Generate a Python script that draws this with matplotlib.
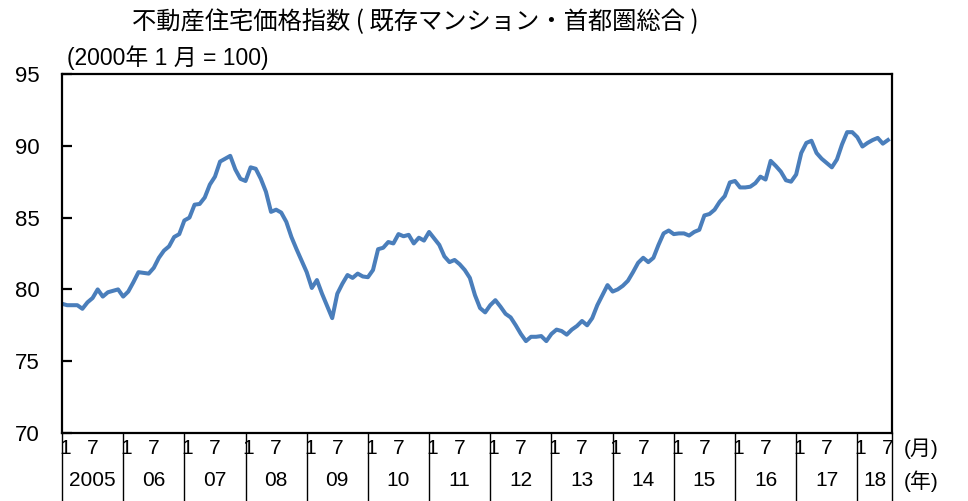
import matplotlib
matplotlib.use("Agg")
import matplotlib.pyplot as plt
import matplotlib.transforms as mtransforms
import numpy as np

# Data: monthly index, Jan 2005 - Jul 2018
values_2005 = [79.0, 78.9, 78.9, 78.9, 78.65, 79.1, 79.4, 80.0, 79.5, 79.8, 79.9, 80.0]
values_2006 = [79.5, 79.85, 80.5, 81.2, 81.15, 81.1, 81.5, 82.2, 82.7, 83.0, 83.65, 83.85]
values_2007 = [84.8, 85.0, 85.9, 85.95, 86.4, 87.3, 87.85, 88.9, 89.1, 89.3, 88.35, 87.7]
values_2008 = [87.55, 88.5, 88.4, 87.7, 86.8, 85.4, 85.55, 85.35, 84.7, 83.65, 82.8, 82.0]
values_2009 = [81.2, 80.1, 80.65, 79.7, 78.85, 78.0, 79.7, 80.4, 81.0, 80.8, 81.1, 80.9]
values_2010 = [80.85, 81.35, 82.8, 82.9, 83.3, 83.2, 83.85, 83.7, 83.8, 83.2, 83.6, 83.4]
values_2011 = [84.0, 83.55, 83.1, 82.3, 81.9, 82.05, 81.75, 81.35, 80.8, 79.6, 78.7, 78.4]
values_2012 = [78.9, 79.25, 78.8, 78.3, 78.05, 77.5, 76.9, 76.4, 76.7, 76.7, 76.75, 76.4]
values_2013 = [76.9, 77.2, 77.1, 76.85, 77.2, 77.45, 77.8, 77.5, 78.0, 78.9, 79.6, 80.3]
values_2014 = [79.85, 80.0, 80.25, 80.6, 81.2, 81.85, 82.2, 81.9, 82.2, 83.1, 83.9, 84.1]
values_2015 = [83.85, 83.9, 83.9, 83.75, 84.0, 84.15, 85.15, 85.25, 85.55, 86.1, 86.5, 87.45]
values_2016 = [87.55, 87.1, 87.1, 87.15, 87.4, 87.85, 87.65, 88.95, 88.6, 88.2, 87.6, 87.5]
values_2017 = [88.0, 89.5, 90.2, 90.35, 89.5, 89.1, 88.8, 88.5, 89.05, 90.1, 90.95, 90.95]
values_2018 = [90.6, 89.95, 90.2, 90.4, 90.55, 90.15, 90.4]

year_labels = ["2005", "06", "07", "08", "09", "10", "11", "12", "13", "14", "15", "16", "17", "18"]
y_ticks = [70, 75, 80, 85, 90, 95]

title = "不動産住宅価格指数 ( 既存マンション・首都圏総合 )"
subtitle = "(2000年 1 月 = 100)"

values = (values_2005 + values_2006 + values_2007 + values_2008 + values_2009 + values_2010
          + values_2011 + values_2012 + values_2013 + values_2014 + values_2015 + values_2016
          + values_2017 + values_2018)
x = np.arange(len(values))

plt.rcParams['font.family'] = ['Liberation Sans', 'Noto Sans CJK JP']

fig = plt.figure(figsize=(9.68, 5.01), dpi=100)
ax = fig.add_axes([62/968, 1-433/501, (892-62)/968, (433-74)/501])

ax.plot(x, values, color="#4a7ebb", linewidth=2.9, solid_joinstyle='round')

x_end = len(values) - 1 + 0.8
ax.set_xlim(0, x_end)
ax.set_ylim(70, 95)

for s in ax.spines.values():
    s.set_linewidth(1.6)
    s.set_color("black")

ax.set_yticks(y_ticks)
ax.set_yticklabels([str(v) for v in y_ticks], fontsize=16)
ax.tick_params(axis='y', direction='in', length=7, width=1.6, pad=16)

# x separators as long ticks
n_years = len(year_labels)
sep = [12*k for k in range(n_years)] + [x_end]
ax.set_xticks(sep)
ax.set_xticklabels([])
ax.tick_params(axis='x', direction='out', length=49, width=1.0, color='black')

trans = mtransforms.blended_transform_factory(ax.transData, ax.transAxes)
month_y = (433-449)/359
year_y = (433-481)/359
for k, lab in enumerate(year_labels):
    ax.text(12*k + 0.6, month_y, "1", transform=trans, ha='center', va='center', fontsize=15)
    ax.text(12*k + 6, month_y, "7", transform=trans, ha='center', va='center', fontsize=15)
    start = 12*k
    end = min(12*(k+1), x_end)
    ax.text((start+end)/2, year_y, lab, transform=trans, ha='center', va='center', fontsize=15)

fig.text(921/968, 1-449/501, "(月)", ha='center', va='center', fontsize=15)
fig.text(921/968, 1-481/501, "(年)", ha='center', va='center', fontsize=15)

fig.text(415/968, 1-22/501, title, ha='center', va='center', fontsize=17.5,
         family=['Noto Sans CJK JP', 'Liberation Sans'])
fig.text(67/968, 1-58/501, subtitle, ha='left', va='center', fontsize=16.5)

fig.savefig("out.png", dpi=100)
